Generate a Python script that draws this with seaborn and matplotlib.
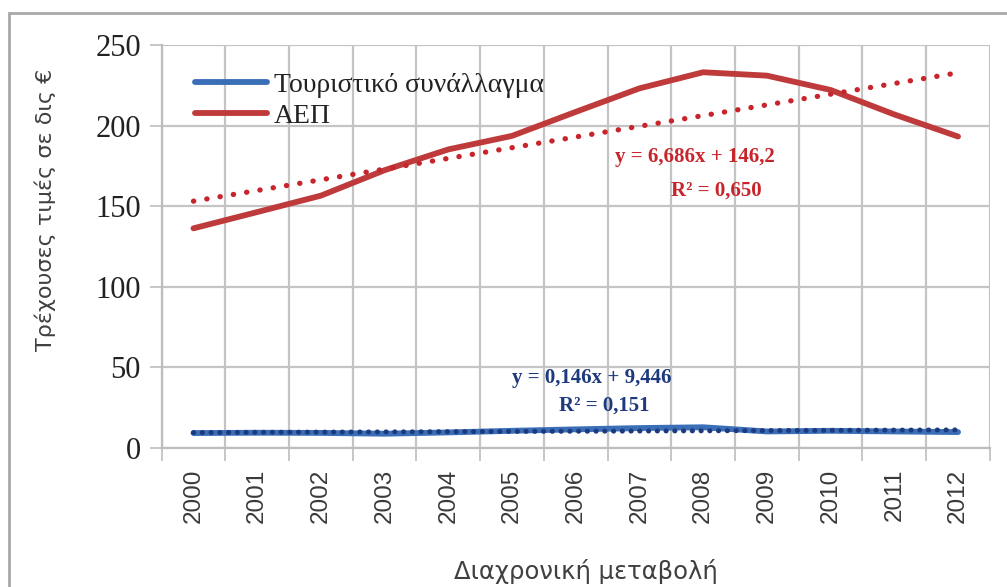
import numpy as np
import pandas as pd
import matplotlib
matplotlib.use("Agg")
import matplotlib.pyplot as plt
import seaborn as sns
from matplotlib.patches import Rectangle
from matplotlib.ticker import FixedLocator

# ---- data ----
years = [2000, 2001, 2002, 2003, 2004, 2005, 2006, 2007, 2008, 2009, 2010, 2011, 2012]
tourism = [9.2, 9.4, 9.3, 8.8, 9.6, 10.6, 11.5, 12.3, 12.8, 10.2, 10.6, 10.2, 9.8]
gdp = [136.3, 146.4, 156.6, 172.4, 185.3, 193.7, 208.6, 223.2, 233.2, 231.1, 222.2, 207.0, 193.3]
series_names = ["Τουριστικό συνάλλαγμα", "ΑΕΠ"]
eq_gdp = ["y = 6,686x + 146,2", "R² = 0,650"]
eq_tour = ["y = 0,146x + 9,446", "R² = 0,151"]
y_ticks = [0, 50, 100, 150, 200, 250]
x_label = "Διαχρονική μεταβολή"
y_label = "Τρέχουσες τιμές σε δις €"

df = pd.DataFrame({"year": years, series_names[0]: tourism, series_names[1]: gdp})
long = df.melt(id_vars="year", var_name="series", value_name="value")

sns.set_theme(style="white")
plt.rcParams["font.family"] = ["DejaVu Sans"]

fig = plt.figure(figsize=(10.07, 5.87), dpi=100)
ax = fig.add_axes([0.1605, 0.237, 0.8225, 0.686])

c_blue = "#3A6FB8"
c_red = "#BF3B3B"
c_blue_tr = "#1E3A7E"
c_red_tr = "#C8242B"

sns.lineplot(data=long, x="year", y="value", hue="series",
             palette={series_names[0]: c_blue, series_names[1]: c_red},
             linewidth=4.2, ax=ax, legend=True)

sns.regplot(x=years, y=gdp, scatter=False, ci=None, ax=ax,
            line_kws=dict(color=c_red_tr, lw=3.8, linestyle=(0, (0.05, 2.5))))
sns.regplot(x=years, y=tourism, scatter=False, ci=None, ax=ax,
            line_kws=dict(color=c_blue_tr, lw=3.6, linestyle=(0, (0.05, 1.7))))
for ln in ax.lines[2:]:
    ln.set_dash_capstyle("round")

ax.set_xlim(years[0] - 0.5, years[-1] + 0.5)
ax.set_ylim(0, 250)

# y axis
ax.set_yticks(y_ticks)
ax.set_yticklabels([str(v) for v in y_ticks], family="Liberation Serif",
                   fontsize=22, color="#222222")
# x axis: labels centered on categories, ticks/grid between categories
ax.set_xticks(years)
ax.set_xticklabels([str(y) for y in years], rotation=90, family="Liberation Sans",
                   fontsize=17.5, color="#3a3a3a")
ax.xaxis.set_minor_locator(FixedLocator([y - 0.5 for y in years] + [years[-1] + 0.5]))
ax.tick_params(axis="x", which="major", length=0, pad=15)
ax.tick_params(axis="x", which="minor", length=9, width=1.2, color="#bdbdbd", bottom=True)
ax.tick_params(axis="y", which="major", length=9, width=1.2, color="#bdbdbd", left=True, pad=6)

ax.grid(False)
ax.grid(True, axis="y", which="major", color="#c4c4c4", lw=1.6)
ax.grid(True, axis="x", which="minor", color="#c4c4c4", lw=1.6)
ax.set_axisbelow(True)
for s in ["top", "right"]:
    ax.spines[s].set_visible(False)
for s in ["left", "bottom"]:
    ax.spines[s].set_color("#bdbdbd")
    ax.spines[s].set_linewidth(1.6)

ax.set_xlabel(x_label, fontsize=17.5, color="#404040", family="DejaVu Sans")
ax.xaxis.set_label_coords(0.512, -0.275)
ax.set_ylabel(y_label, fontsize=16, color="#404040", family="DejaVu Sans")
ax.yaxis.set_label_coords(-0.127, 0.59)

leg = ax.legend(loc="upper left", bbox_to_anchor=(0.01, 0.995), frameon=False,
                prop={"family": "Liberation Serif", "size": 20},
                handlelength=2.6, handletextpad=0.25, labelspacing=0.2)
for t in leg.get_texts():
    t.set_color("#222222")

# trendline equations
tf = dict(family="Liberation Serif", fontsize=15, fontweight="bold", ha="center", va="center")
ax.text(2007.87, 180.5, eq_gdp[0], color=c_red_tr, **tf)
ax.text(2008.2, 160.0, eq_gdp[1], color=c_red_tr, **tf)
ax.text(2006.25, 43.5, eq_tour[0], color=c_blue_tr, **tf)
ax.text(2006.45, 26.5, eq_tour[1], color=c_blue_tr, **tf)

# outer chart border
fig.patches.append(Rectangle((0.009, -0.05), 1.2, 1.028, transform=fig.transFigure,
                             fill=False, edgecolor="#a8a8a8", lw=2, zorder=0))

fig.savefig("out.png", dpi=100)
